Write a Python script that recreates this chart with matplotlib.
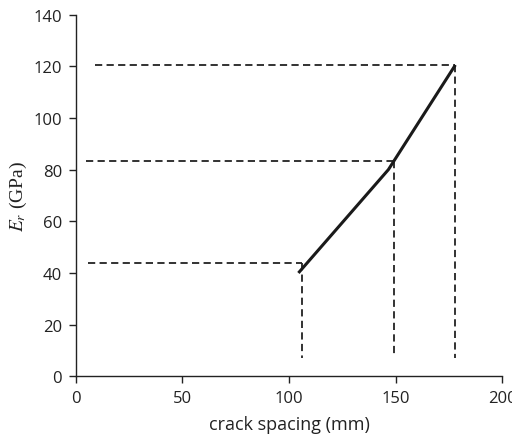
import matplotlib.pyplot as plt

# solid curve
curve_x = [104.4, 146.6, 178.0]
curve_y = [40.0, 80.0, 120.5]

# dashed guide lines: corner points, left start of horizontal, bottom of vertical
guide_x = [106.3, 149.0, 178.0]
guide_y = [44.0, 83.3, 120.5]
guide_left = [5.5, 4.7, 9.2]
guide_bottom = [7.0, 7.3, 7.0]

xticks = [0, 50, 100, 150, 200]
yticks = [0, 20, 40, 60, 80, 100, 120, 140]

plt.rcParams['mathtext.fontset'] = 'stix'

fig = plt.figure(figsize=(5.12, 4.39), dpi=100)
ax = fig.add_axes([0.148, 0.1405, 0.833, 0.824])

dash = dict(color='#222222', linewidth=1.3, linestyle=(0, (4, 2.4)))
for gx, gy, gl, gb in zip(guide_x, guide_y, guide_left, guide_bottom):
    ax.plot([gl, gx], [gy, gy], **dash)
    ax.plot([gx, gx], [gy, gb], **dash)

ax.plot(curve_x, curve_y, color='#1a1a1a', linewidth=2.2, solid_capstyle='butt')

ax.set_xlim(0, 200)
ax.set_ylim(0, 140)
ax.set_xticks(xticks)
ax.set_yticks(yticks)

for s in ['top', 'right']:
    ax.spines[s].set_visible(False)
for s in ['left', 'bottom']:
    ax.spines[s].set_linewidth(1.0)
    ax.spines[s].set_color('#222222')

ax.tick_params(direction='out', length=5, width=1.0, colors='#222222',
               labelsize=12, pad=5)
for lab in ax.get_xticklabels() + ax.get_yticklabels():
    lab.set_family('Open Sans')
    lab.set_color('#222222')

ax.set_xlabel('crack spacing (mm)', fontsize=13, family='Open Sans',
              color='#222222', labelpad=6)
ax.set_ylabel(r'$E_r$ (GPa)', fontsize=14, family='Liberation Serif',
              color='#222222', labelpad=3)
ax.yaxis.label.set_math_fontfamily('stix')

fig.savefig('out.png', dpi=100)
